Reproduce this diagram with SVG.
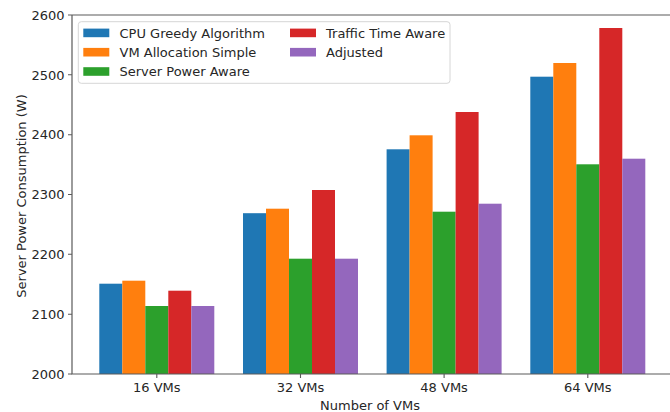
<svg xmlns="http://www.w3.org/2000/svg" width="670" height="412" viewBox="0 0 670 412">
<style>
text{font-family:"DejaVu Sans","Liberation Sans",sans-serif;font-size:13px;fill:#262626}
.b{fill:#1f77b4}.o{fill:#ff7f0e}.g{fill:#2ca02c}.r{fill:#d62728}.p{fill:#9467bd}
.spine{stroke:#5a5a5a;stroke-width:1.2;fill:none}
.tick{stroke:#5a5a5a;stroke-width:1.1}
.yt{text-anchor:end}
.xt{text-anchor:middle}
</style>
<rect width="670" height="412" fill="#fff"/>
<g id="bars">
<g id="series-cpu">
<rect class="b" x="99.3" y="283.7" width="23" height="90.3"/>
<rect class="b" x="243.0" y="213.2" width="23" height="160.8"/>
<rect class="b" x="386.6" y="149.3" width="23" height="224.7"/>
<rect class="b" x="530.3" y="76.7" width="23" height="297.3"/>
</g>
<g id="series-vm">
<rect class="o" x="122.3" y="280.7" width="23" height="93.3"/>
<rect class="o" x="266.0" y="208.7" width="23" height="165.3"/>
<rect class="o" x="409.6" y="135.3" width="23" height="238.7"/>
<rect class="o" x="553.3" y="63.0" width="23" height="311.0"/>
</g>
<g id="series-server">
<rect class="g" x="145.3" y="306.0" width="23" height="68.0"/>
<rect class="g" x="289.0" y="258.7" width="23" height="115.3"/>
<rect class="g" x="432.6" y="211.7" width="23" height="162.3"/>
<rect class="g" x="576.3" y="164.3" width="23" height="209.7"/>
</g>
<g id="series-traffic">
<rect class="r" x="168.3" y="290.7" width="23" height="83.3"/>
<rect class="r" x="312.0" y="190.0" width="23" height="184.0"/>
<rect class="r" x="455.6" y="112.0" width="23" height="262.0"/>
<rect class="r" x="599.3" y="28.0" width="23" height="346.0"/>
</g>
<g id="series-adjusted">
<rect class="p" x="191.3" y="306.0" width="23" height="68.0"/>
<rect class="p" x="335.0" y="258.7" width="23" height="115.3"/>
<rect class="p" x="478.6" y="203.7" width="23" height="170.3"/>
<rect class="p" x="622.3" y="158.7" width="23" height="215.3"/>
</g>
</g>
<g id="axes">
<path class="spine" d="M72,15 V374 H670 M72,15 H670"/>
<g id="yticks">
<path class="tick" d="M68,374H72M68,314.2H72M68,254.3H72M68,194.5H72M68,134.7H72M68,74.8H72M68,15H72"/>
<text class="yt" x="64.5" y="378.7">2000</text>
<text class="yt" x="64.5" y="318.9">2100</text>
<text class="yt" x="64.5" y="259">2200</text>
<text class="yt" x="64.5" y="199.2">2300</text>
<text class="yt" x="64.5" y="139.4">2400</text>
<text class="yt" x="64.5" y="79.5">2500</text>
<text class="yt" x="64.5" y="19.7">2600</text>
</g>
<g id="xticks">
<path class="tick" d="M156.8,374V378M300.5,374V378M444.1,374V378M587.8,374V378"/>
<text class="xt" x="156.8" y="391.5">16 VMs</text>
<text class="xt" x="300.5" y="391.5">32 VMs</text>
<text class="xt" x="444.1" y="391.5">48 VMs</text>
<text class="xt" x="587.8" y="391.5">64 VMs</text>
</g>
<text class="xt" x="370" y="409.5">Number of VMs</text>
<text class="xt" transform="translate(25.5,196) rotate(-90)">Server Power Consumption (W)</text>
</g>
<g id="legend">
<rect x="78.3" y="21.7" width="371.7" height="61.6" rx="3" fill="#fff" fill-opacity="0.8" stroke="#d6d6d6" stroke-width="1"/>
<rect class="b" x="83.3" y="28.6" width="26" height="8.6"/>
<rect class="o" x="83.3" y="47.9" width="26" height="8.6"/>
<rect class="g" x="83.3" y="67.2" width="26" height="8.6"/>
<rect class="r" x="290" y="28.6" width="26" height="8.6"/>
<rect class="p" x="290" y="47.9" width="26" height="8.6"/>
<text x="119.5" y="37.6">CPU Greedy Algorithm</text>
<text x="119.5" y="56.9">VM Allocation Simple</text>
<text x="119.5" y="76.2">Server Power Aware</text>
<text x="326" y="37.6">Traffic Time Aware</text>
<text x="326" y="56.9">Adjusted</text>
</g>
</svg>
